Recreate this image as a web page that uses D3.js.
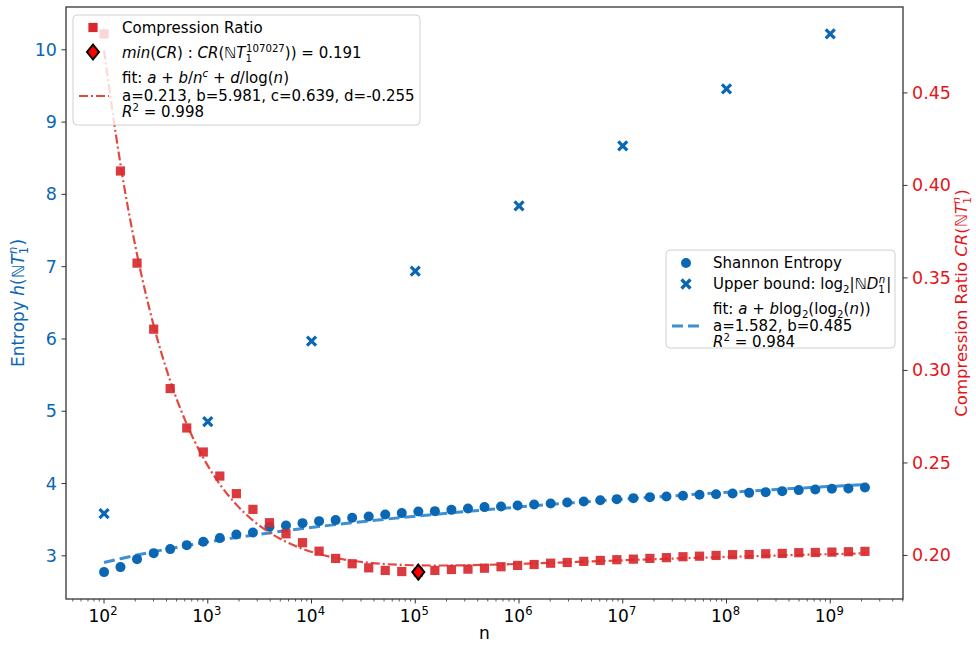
<!DOCTYPE html>
<html>
<head>
<meta charset="utf-8">
<script src="https://cdn.jsdelivr.net/npm/d3@7"></script>
<style>
  body { margin: 0; background: #fff; }
  svg { font-family: "DejaVu Sans", sans-serif; }
</style>
</head>
<body>
<div id="chart"></div>
<script>
// sample sizes n (same for both series)
const nValues = [
  100, 144, 208, 301, 434, 627, 905, 1306, 1886, 2723,
  3930, 5674, 8191, 11824, 17069, 24640, 35569, 51346, 74121, 107027,
  154525, 223060, 322000, 464820, 671000, 968840, 1398500, 2018800, 2914300, 4207000,
  6072900, 8766500, 12655000, 18268000, 26371000, 38068000, 54953000, 79327000, 114510000, 165310000,
  238780000, 344590000, 497430000, 718060000, 1037000000, 1496900000, 2160900000
];
const entropy = [
  2.775, 2.844, 2.954, 3.037, 3.093, 3.148, 3.194, 3.245, 3.295, 3.322,
  3.401, 3.419, 3.452, 3.480, 3.494, 3.526, 3.544, 3.571, 3.591, 3.613,
  3.618, 3.636, 3.654, 3.674, 3.682, 3.696, 3.710, 3.723, 3.737, 3.751,
  3.770, 3.784, 3.798, 3.812, 3.820, 3.830, 3.844, 3.853, 3.862, 3.871,
  3.881, 3.895, 3.909, 3.917, 3.927, 3.931, 3.945
];
const compressionRatio = [
  0.4819, 0.4078, 0.3580, 0.3223, 0.2902, 0.2689, 0.2559, 0.2429, 0.2334, 0.2249,
  0.2177, 0.2117, 0.2069, 0.2023, 0.1984, 0.1955, 0.1933, 0.1919, 0.1913, 0.1910,
  0.1919, 0.1924, 0.1926, 0.1931, 0.1939, 0.1946, 0.1951, 0.1958, 0.1962, 0.1968,
  0.1973, 0.1977, 0.1980, 0.1984, 0.1988, 0.1993, 0.1996, 0.2000, 0.2004, 0.2005,
  0.2009, 0.2011, 0.2015, 0.2016, 0.2018, 0.2020, 0.2022
];
const upperBoundN = [1e2, 1e3, 1e4, 1e5, 1e6, 1e7, 1e8, 1e9];
const upperBound = [3.585, 4.858, 5.97, 6.94, 7.84, 8.67, 9.46, 10.22];

const minN = 107027, minCR = 0.191;
const entropyFit = { a: 1.582, b: 0.485 };
const crFit = { a: 0.213, b: 5.981, c: 0.639, d: -0.255 };

const xTickExps = [2, 3, 4, 5, 6, 7, 8, 9];
const leftTicks = [3, 4, 5, 6, 7, 8, 9, 10];
const rightTicks = [0.20, 0.25, 0.30, 0.35, 0.40, 0.45];

const W = 976, H = 651;
const m = { left: 66, right: 903, top: 7, bottom: 599 };
const blue = "#0a67b4", red = "#d8292f", redText = "#e3161c";

const svg = d3.select("#chart").append("svg")
  .attr("width", W).attr("height", H);

// matplotlib style 5% margins
function padded(lo, hi) {
  const p = (hi - lo) * 0.05;
  return [lo - p, hi + p];
}
const lx = padded(Math.log10(d3.min(nValues)), Math.log10(d3.max(nValues)));
const x = d3.scaleLog().domain([10 ** lx[0], 10 ** lx[1]]).range([m.left, m.right]);
const yL = d3.scaleLinear()
  .domain(padded(d3.min(entropy.concat(upperBound)), d3.max(entropy.concat(upperBound))))
  .range([m.bottom, m.top]);
const yR = d3.scaleLinear()
  .domain(padded(d3.min(compressionRatio), d3.max(compressionRatio)))
  .range([m.bottom, m.top]);

// text with italics / sub / superscripts
function rich(sel, parts, size) {
  let shift = 0;
  parts.forEach(p => {
    const target = p.s === "sup" ? -0.4 * size : p.s === "sub" ? 0.25 * size : 0;
    const ts = sel.append("tspan").attr("dy", target - shift).text(p.t);
    shift = target;
    if (p.s) ts.attr("font-size", size * 0.68);
    if (p.i) ts.attr("font-style", "italic");
    if (p.dx) ts.attr("dx", p.dx);
  });
}

// ---- axes ----
const axisColor = "#333";
const g = svg.append("g");

// x ticks
const minorTicks = [];
for (let e = 1; e <= 9; e++) for (let k = 2; k <= 9; k++) {
  const v = k * 10 ** e;
  if (v >= x.domain()[0] && v <= x.domain()[1]) minorTicks.push(v);
}
g.selectAll(".xminor").data(minorTicks).join("line")
  .attr("x1", d => x(d)).attr("x2", d => x(d))
  .attr("y1", m.bottom).attr("y2", m.bottom + 2.5)
  .attr("stroke", axisColor).attr("stroke-width", 0.8);
g.selectAll(".xmajor").data(xTickExps).join("line")
  .attr("x1", d => x(10 ** d)).attr("x2", d => x(10 ** d))
  .attr("y1", m.bottom).attr("y2", m.bottom + 4.5)
  .attr("stroke", axisColor).attr("stroke-width", 1);
xTickExps.forEach(e => {
  const t = g.append("text").attr("x", x(10 ** e) - 1).attr("y", 622)
    .attr("text-anchor", "middle").attr("font-size", 17).attr("fill", "#000");
  rich(t, [{ t: "10" }, { t: String(e), s: "sup" }], 17);
});

// left ticks
g.selectAll(".ltick").data(leftTicks).join("line")
  .attr("x1", m.left - 4.5).attr("x2", m.left)
  .attr("y1", d => yL(d)).attr("y2", d => yL(d))
  .attr("stroke", axisColor);
g.selectAll(".llab").data(leftTicks).join("text")
  .attr("x", m.left - 9).attr("y", d => yL(d) + 6)
  .attr("text-anchor", "end").attr("font-size", 17.5).attr("fill", blue)
  .text(d => d);

// right ticks
g.selectAll(".rtick").data(rightTicks).join("line")
  .attr("x1", m.right).attr("x2", m.right + 4.5)
  .attr("y1", d => yR(d)).attr("y2", d => yR(d))
  .attr("stroke", axisColor);
g.selectAll(".rlab").data(rightTicks).join("text")
  .attr("x", m.right + 9).attr("y", d => yR(d) + 6)
  .attr("text-anchor", "start").attr("font-size", 17.5).attr("fill", redText)
  .text(d => d.toFixed(2));

// axis labels
g.append("text").attr("x", (m.left + m.right) / 2).attr("y", 639)
  .attr("text-anchor", "middle").attr("font-size", 17).text("n");

const ll = g.append("text")
  .attr("transform", `translate(24,${(m.top + m.bottom) / 2}) rotate(-90)`)
  .attr("text-anchor", "middle").attr("font-size", 17).attr("fill", blue);
rich(ll, [{ t: "Entropy " }, { t: "h", i: true }, { t: "(ℕ" }, { t: "T", i: true },
  { t: "1", s: "sub" }, { t: "n", s: "sup", i: true, dx: -7 }, { t: ")", dx: 1 }], 17);

const rl = g.append("text")
  .attr("transform", `translate(967,${(m.top + m.bottom) / 2}) rotate(-90)`)
  .attr("text-anchor", "middle").attr("font-size", 16.5).attr("fill", redText);
rich(rl, [{ t: "Compression Ratio " }, { t: "CR", i: true }, { t: "(ℕ" }, { t: "T", i: true },
  { t: "1", s: "sub" }, { t: "n", s: "sup", i: true, dx: -7 }, { t: ")", dx: 1 }], 16.5);

// ---- blue series (left axis) ----
const entropyFitLine = d3.line()
  .x(d => x(d))
  .y(d => yL(entropyFit.a + entropyFit.b * Math.log2(Math.log2(d))))
  .curve(d3.curveMonotoneX);
svg.append("path").datum(nValues)
  .attr("d", entropyFitLine).attr("fill", "none")
  .attr("stroke", "#3f8fd4").attr("stroke-width", 3).attr("stroke-dasharray", "11,5");

svg.selectAll(".ent").data(nValues).join("circle")
  .attr("cx", d => x(d)).attr("cy", (d, i) => yL(entropy[i]))
  .attr("r", 5).attr("fill", blue);

const xMark = "M-4.5,-4.5L4.5,4.5M-4.5,4.5L4.5,-4.5";
svg.selectAll(".ub").data(upperBoundN).join("path")
  .attr("transform", (d, i) => `translate(${x(d)},${yL(upperBound[i])})`)
  .attr("d", xMark).attr("stroke", blue).attr("stroke-width", 3.2).attr("fill", "none");

// legend for the blue series
const lg2 = svg.append("g");
lg2.append("rect").attr("x", 666).attr("y", 250).attr("width", 229).attr("height", 98)
  .attr("rx", 4).attr("fill", "#fff").attr("fill-opacity", 0.8)
  .attr("stroke", "#d0d0d0");
lg2.append("circle").attr("cx", 686).attr("cy", 263).attr("r", 5).attr("fill", blue);
lg2.append("path").attr("transform", "translate(686,284)").attr("d", xMark)
  .attr("stroke", blue).attr("stroke-width", 3.2);
lg2.append("line").attr("x1", 672).attr("x2", 700).attr("y1", 326).attr("y2", 326)
  .attr("stroke", "#3f8fd4").attr("stroke-width", 3).attr("stroke-dasharray", "11,5");
const l2 = [
  { y: 268, parts: [{ t: "Shannon Entropy" }] },
  { y: 289, parts: [{ t: "Upper bound: log" }, { t: "2", s: "sub" }, { t: "|ℕ" }, { t: "D", i: true },
    { t: "1", s: "sub" }, { t: "n", s: "sup", i: true, dx: -6 }, { t: "|", dx: 1 }] },
  { y: 314, parts: [{ t: "fit: " }, { t: "a", i: true }, { t: " + " }, { t: "b", i: true }, { t: "log" },
    { t: "2", s: "sub" }, { t: "(log" }, { t: "2", s: "sub" }, { t: "(" }, { t: "n", i: true }, { t: "))" }] },
  { y: 331, parts: [{ t: "a=1.582, b=0.485" }] },
  { y: 347, parts: [{ t: "R", i: true }, { t: "2", s: "sup" }, { t: " = 0.984" }] }
];
l2.forEach(r => {
  const t = lg2.append("text").attr("x", 713).attr("y", r.y).attr("font-size", 15);
  rich(t, r.parts, 15);
});

// ---- red series (right axis) ----
const crFitLine = d3.line()
  .x(d => x(d))
  .y(d => yR(crFit.a + crFit.b / Math.pow(d, crFit.c) + crFit.d / Math.log(d)))
  .curve(d3.curveMonotoneX);
svg.append("path").datum(nValues)
  .attr("d", crFitLine).attr("fill", "none")
  .attr("stroke", "#e5473f").attr("stroke-width", 2.2).attr("stroke-dasharray", "9,3,2,3");

svg.selectAll(".cr").data(nValues).join("rect")
  .attr("x", d => x(d) - 4.6).attr("y", (d, i) => yR(compressionRatio[i]) - 4.6)
  .attr("width", 9.2).attr("height", 9.2).attr("fill", red).attr("fill-opacity", 0.92);

const diamond = "M0,-7.5L6,0L0,7.5L-6,0Z";
svg.append("path").attr("transform", `translate(${x(minN)},${yR(minCR)})`)
  .attr("d", diamond).attr("fill", "#ff0000").attr("stroke", "#000").attr("stroke-width", 2);

// legend for the red series
const lg1 = svg.append("g");
lg1.append("rect").attr("x", 73).attr("y", 15).attr("width", 347).attr("height", 110)
  .attr("rx", 4).attr("fill", "#fff").attr("fill-opacity", 0.8)
  .attr("stroke", "#d0d0d0");
lg1.append("rect").attr("x", 93 - 4.6).attr("y", 27.5 - 4.6).attr("width", 9.2).attr("height", 9.2)
  .attr("fill", red);
lg1.append("path").attr("transform", "translate(93,52)").attr("d", diamond)
  .attr("fill", "#ff0000").attr("stroke", "#000").attr("stroke-width", 2);
lg1.append("line").attr("x1", 79).attr("x2", 109).attr("y1", 96).attr("y2", 96)
  .attr("stroke", "#e5473f").attr("stroke-width", 2.2).attr("stroke-dasharray", "9,3,2,3");
const l1 = [
  { y: 33, parts: [{ t: "Compression Ratio" }] },
  { y: 58, parts: [{ t: "min", i: true }, { t: "(" }, { t: "CR", i: true }, { t: ") : " }, { t: "CR", i: true },
    { t: "(ℕ" }, { t: "T", i: true }, { t: "1", s: "sub" }, { t: "107027", s: "sup", dx: -6 }, { t: ")) = 0.191" }] },
  { y: 83, parts: [{ t: "fit: " }, { t: "a", i: true }, { t: " + " }, { t: "b", i: true }, { t: "/" },
    { t: "n", i: true }, { t: "c", s: "sup", i: true }, { t: " + " }, { t: "d", i: true }, { t: "/log(" },
    { t: "n", i: true }, { t: ")" }] },
  { y: 101, parts: [{ t: "a=0.213, b=5.981, c=0.639, d=-0.255" }] },
  { y: 117, parts: [{ t: "R", i: true }, { t: "2", s: "sup" }, { t: " = 0.998" }] }
];
l1.forEach(r => {
  const t = lg1.append("text").attr("x", 122).attr("y", r.y).attr("font-size", 15);
  rich(t, r.parts, 15);
});

// spines on top
svg.append("rect").attr("x", m.left).attr("y", m.top)
  .attr("width", m.right - m.left).attr("height", m.bottom - m.top)
  .attr("fill", "none").attr("stroke", axisColor).attr("stroke-width", 1.3);
</script>
</body>
</html>
